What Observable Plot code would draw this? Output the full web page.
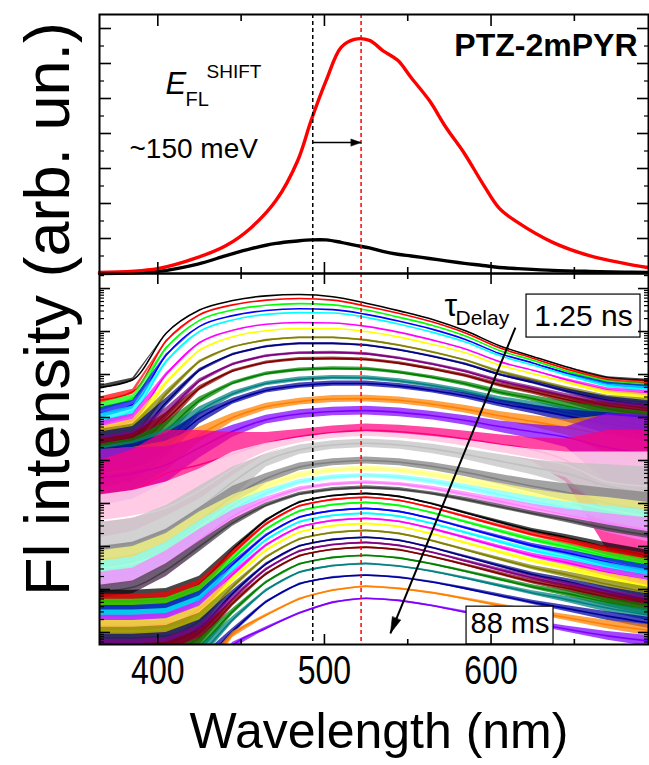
<!DOCTYPE html>
<html><head><meta charset="utf-8">
<script src="https://cdn.jsdelivr.net/npm/d3@7"></script>
<script src="https://cdn.jsdelivr.net/npm/@observablehq/plot@0.6"></script>
<style>
html,body{margin:0;padding:0;background:#fff;}
#chart{position:relative;width:649px;height:765px;overflow:hidden;background:#fff;font-family:'Liberation Sans',Arial,sans-serif;color:#000;}
#chart svg{position:absolute;left:0;overflow:visible;}
#ylabel{position:absolute;left:47px;top:309px;transform:translate(-50%,-50%) rotate(-90deg);font-size:63px;white-space:nowrap;line-height:1;}
</style></head><body><div id="chart"></div>
<script>
// ---------- data ----------
const topWavelengths = [365, 400, 424, 441, 456, 471, 484, 492, 501, 510, 518, 527, 535, 544, 552, 563, 573, 584, 595, 605, 616, 637, 659, 680, 694];
const redSpectrum   = [0.03, 0.14, 0.46, 0.80, 1.31, 2.09, 3.23, 4.37, 5.51, 6.46, 6.69, 6.66, 6.37, 6.09, 5.60, 4.94, 4.17, 3.43, 2.57, 1.86, 1.46, 0.89, 0.51, 0.29, 0.17];
const blackSpectrum = [0.00, 0.06, 0.27, 0.51, 0.71, 0.86, 0.93, 0.96, 0.96, 0.89, 0.81, 0.73, 0.63, 0.55, 0.50, 0.43, 0.36, 0.29, 0.23, 0.17, 0.14, 0.09, 0.06, 0.04, 0.03];

const wavelengths = [365, 385, 405, 425, 445, 465, 485, 505, 525, 545, 565, 585, 605, 625, 645, 670, 695];
const curveColors = [
  "#000000","#FF0000","#00FF00","#0000FF","#00FFFF","#FF00FF","#FFFF00","#808000","#000080","#800080","#800000","#008000","#008080","#0000A0","#FF8000","#8000FF",
  "#FF0080","#FFFFFF","#C0C0C0","#808080","#FFFF80","#80FFFF","#FF80FF","#404040",
  "#000000","#FF0000","#00FF00","#0000FF","#00FFFF","#FF00FF","#FFFF00","#808000","#000080","#800080","#800000","#008000","#008080","#0000A0","#FF8000","#8000FF"
];
// log10 intensity of each delayed spectrum (1.25 ns first, 88 ms last)
const logLevels = [
  [5.70, 5.88, 6.96, 7.50, 7.72, 7.83, 7.86, 7.81, 7.66, 7.48, 7.28, 7.01, 6.67, 6.42, 6.18, 5.93, 5.86],
  [5.40, 5.60, 6.78, 7.39, 7.62, 7.73, 7.77, 7.73, 7.59, 7.42, 7.22, 6.96, 6.62, 6.38, 6.13, 5.88, 5.80],
  [5.25, 5.45, 6.62, 7.26, 7.50, 7.61, 7.65, 7.62, 7.50, 7.33, 7.14, 6.89, 6.56, 6.33, 6.08, 5.83, 5.75],
  [5.10, 5.30, 6.45, 7.12, 7.37, 7.49, 7.53, 7.51, 7.40, 7.24, 7.05, 6.81, 6.49, 6.27, 6.03, 5.78, 5.70],
  [4.95, 5.15, 6.30, 7.00, 7.27, 7.40, 7.44, 7.43, 7.33, 7.17, 6.98, 6.75, 6.44, 6.22, 5.99, 5.74, 5.66],
  [4.75, 4.95, 6.00, 6.74, 7.03, 7.17, 7.21, 7.20, 7.12, 6.98, 6.80, 6.59, 6.30, 6.10, 5.88, 5.64, 5.56],
  [4.60, 4.80, 5.80, 6.56, 6.88, 7.02, 7.07, 7.07, 7.00, 6.87, 6.70, 6.50, 6.22, 6.02, 5.82, 5.58, 5.48],
  [4.50, 4.65, 5.55, 6.30, 6.64, 6.80, 6.86, 6.86, 6.80, 6.68, 6.52, 6.33, 6.07, 5.88, 5.68, 5.45, 5.35],
  [4.40, 4.55, 5.35, 6.10, 6.47, 6.65, 6.72, 6.72, 6.68, 6.57, 6.42, 6.24, 6.00, 5.82, 5.62, 5.40, 5.28],
  [4.25, 4.40, 5.10, 5.85, 6.24, 6.43, 6.50, 6.51, 6.48, 6.38, 6.24, 6.07, 5.85, 5.68, 5.50, 5.28, 5.15],
  [4.15, 4.30, 4.95, 5.68, 6.08, 6.28, 6.36, 6.37, 6.35, 6.26, 6.13, 5.97, 5.76, 5.60, 5.42, 5.20, 5.06],
  [4.00, 4.15, 4.70, 5.40, 5.80, 6.02, 6.11, 6.14, 6.13, 6.05, 5.93, 5.78, 5.59, 5.44, 5.27, 5.07, 4.93],
  [3.90, 4.05, 4.50, 5.15, 5.55, 5.79, 5.89, 5.93, 5.92, 5.85, 5.74, 5.60, 5.42, 5.28, 5.12, 4.93, 4.79],
  [3.80, 3.95, 4.35, 4.98, 5.38, 5.63, 5.74, 5.79, 5.79, 5.73, 5.63, 5.50, 5.33, 5.19, 5.04, 4.86, 4.72],
  [3.70, 3.80, 4.10, 4.60, 5.00, 5.25, 5.37, 5.43, 5.44, 5.40, 5.31, 5.19, 5.04, 4.91, 4.77, 4.60, 4.47],
  [3.60, 3.70, 3.90, 4.30, 4.68, 4.95, 5.08, 5.14, 5.16, 5.12, 5.04, 4.93, 4.79, 4.67, 4.54, 4.30, 4.15],
  [3.10, 3.30, 3.70, 3.90, 4.15, 4.40, 4.56, 4.65, 4.70, 4.67, 4.60, 4.50, 4.38, 4.25, 4.00, 3.30, 3.20],
  [2.60, 2.70, 2.90, 3.30, 3.80, 4.20, 4.40, 4.51, 4.55, 4.51, 4.43, 4.32, 4.18, 4.04, 3.90, 3.50, 3.40],
  [2.00, 2.10, 2.40, 2.90, 3.50, 4.00, 4.25, 4.36, 4.40, 4.36, 4.27, 4.14, 3.99, 3.84, 3.70, 3.40, 3.25],
  [1.70, 1.80, 2.10, 2.60, 3.15, 3.58, 3.85, 3.96, 4.00, 3.96, 3.86, 3.72, 3.56, 3.40, 3.26, 3.00, 2.85],
  [1.50, 1.60, 1.90, 2.45, 3.00, 3.40, 3.66, 3.77, 3.81, 3.77, 3.67, 3.53, 3.37, 3.21, 3.06, 2.86, 2.70],
  [1.30, 1.40, 1.75, 2.30, 2.85, 3.24, 3.50, 3.61, 3.65, 3.61, 3.51, 3.37, 3.21, 3.05, 2.90, 2.70, 2.54],
  [1.10, 1.20, 1.60, 2.15, 2.70, 3.08, 3.34, 3.45, 3.49, 3.45, 3.35, 3.21, 3.05, 2.89, 2.74, 2.54, 2.38],
  [0.95, 1.05, 1.45, 2.00, 2.55, 2.96, 3.22, 3.33, 3.37, 3.33, 3.23, 3.09, 2.93, 2.77, 2.62, 2.42, 2.26],
  [0.73, 0.73, 0.78, 1.13, 1.93, 2.61, 3.03, 3.18, 3.23, 3.16, 2.99, 2.78, 2.57, 2.37, 2.21, 1.98, 1.78],
  [0.64, 0.64, 0.69, 1.04, 1.84, 2.52, 2.94, 3.09, 3.14, 3.07, 2.90, 2.69, 2.48, 2.28, 2.12, 1.89, 1.69],
  [0.52, 0.52, 0.57, 0.92, 1.72, 2.40, 2.82, 2.97, 3.02, 2.95, 2.78, 2.57, 2.36, 2.16, 2.00, 1.77, 1.57],
  [0.38, 0.38, 0.43, 0.78, 1.58, 2.26, 2.68, 2.83, 2.88, 2.81, 2.64, 2.43, 2.22, 2.02, 1.86, 1.63, 1.43],
  [0.27, 0.27, 0.32, 0.67, 1.47, 2.15, 2.57, 2.72, 2.77, 2.70, 2.53, 2.32, 2.11, 1.91, 1.75, 1.52, 1.32],
  [0.15, 0.15, 0.20, 0.55, 1.35, 2.03, 2.45, 2.60, 2.65, 2.58, 2.41, 2.20, 1.99, 1.79, 1.63, 1.40, 1.20],
  [0.03, 0.03, 0.08, 0.43, 1.23, 1.91, 2.33, 2.48, 2.53, 2.46, 2.29, 2.08, 1.87, 1.67, 1.51, 1.28, 1.08],
  [-0.13, -0.13, -0.08, 0.27, 1.07, 1.75, 2.17, 2.32, 2.37, 2.30, 2.13, 1.92, 1.71, 1.51, 1.35, 1.12, 0.92],
  [-0.29, -0.29, -0.24, 0.11, 0.91, 1.59, 2.01, 2.16, 2.21, 2.14, 1.97, 1.76, 1.55, 1.35, 1.19, 0.96, 0.76],
  [-0.41, -0.41, -0.36, -0.01, 0.79, 1.47, 1.89, 2.04, 2.09, 2.02, 1.86, 1.66, 1.46, 1.27, 1.11, 0.89, 0.70],
  [-0.52, -0.52, -0.47, -0.12, 0.68, 1.36, 1.78, 1.93, 1.98, 1.92, 1.76, 1.57, 1.37, 1.18, 1.03, 0.81, 0.62],
  [-0.71, -0.71, -0.66, -0.31, 0.49, 1.17, 1.59, 1.74, 1.79, 1.73, 1.59, 1.42, 1.24, 1.06, 0.91, 0.70, 0.52],
  [-0.90, -0.90, -0.85, -0.50, 0.30, 0.98, 1.40, 1.55, 1.60, 1.54, 1.42, 1.26, 1.09, 0.92, 0.77, 0.57, 0.40],
  [-1.17, -1.17, -1.12, -0.77, 0.03, 0.71, 1.13, 1.28, 1.33, 1.28, 1.17, 1.02, 0.86, 0.70, 0.56, 0.38, 0.22],
  [-1.43, -1.43, -1.38, -1.03, -0.05, 0.40, 0.78, 0.98, 1.07, 1.02, 0.92, 0.78, 0.63, 0.48, 0.35, 0.18, 0.05],
  [-1.71, -1.71, -1.66, -1.31, -0.30, 0.10, 0.45, 0.70, 0.79, 0.74, 0.62, 0.47, 0.35, 0.22, 0.08, -0.08, -0.20]
];
// half-width of the noise band (decades) of each spectrum
const logNoise = [
  [0.05, 0.04, 0, 0, 0, 0, 0, 0, 0, 0, 0, 0, 0, 0, 0, 0.02, 0.03],
  [0.08, 0.06, 0.02, 0, 0, 0, 0, 0, 0, 0, 0, 0, 0, 0, 0.02, 0.03, 0.04],
  [0.10, 0.08, 0.02, 0, 0, 0, 0, 0, 0, 0, 0, 0, 0, 0, 0.02, 0.03, 0.04],
  [0.12, 0.10, 0.03, 0, 0, 0, 0, 0, 0, 0, 0, 0, 0, 0, 0.02, 0.04, 0.05],
  [0.14, 0.12, 0.03, 0, 0, 0, 0, 0, 0, 0, 0, 0, 0, 0, 0.02, 0.04, 0.05],
  [0.16, 0.14, 0.04, 0.01, 0, 0, 0, 0, 0, 0, 0, 0, 0, 0, 0.03, 0.05, 0.06],
  [0.18, 0.16, 0.05, 0.02, 0, 0, 0, 0, 0, 0, 0, 0, 0, 0.01, 0.03, 0.05, 0.07],
  [0.22, 0.20, 0.08, 0.03, 0.02, 0.02, 0.02, 0.02, 0.02, 0.02, 0.02, 0.02, 0.03, 0.03, 0.04, 0.07, 0.09],
  [0.26, 0.24, 0.10, 0.04, 0.025, 0.025, 0.025, 0.025, 0.025, 0.025, 0.025, 0.03, 0.03, 0.04, 0.05, 0.09, 0.11],
  [0.30, 0.28, 0.13, 0.05, 0.03, 0.03, 0.03, 0.03, 0.03, 0.03, 0.03, 0.035, 0.04, 0.05, 0.06, 0.11, 0.14],
  [0.34, 0.32, 0.16, 0.06, 0.035, 0.035, 0.035, 0.035, 0.035, 0.035, 0.035, 0.04, 0.05, 0.06, 0.08, 0.14, 0.17],
  [0.38, 0.36, 0.20, 0.08, 0.045, 0.04, 0.04, 0.04, 0.04, 0.04, 0.04, 0.05, 0.06, 0.07, 0.10, 0.17, 0.20],
  [0.42, 0.40, 0.24, 0.10, 0.06, 0.05, 0.05, 0.05, 0.05, 0.05, 0.05, 0.06, 0.07, 0.09, 0.12, 0.20, 0.24],
  [0.46, 0.44, 0.28, 0.13, 0.07, 0.06, 0.06, 0.06, 0.06, 0.06, 0.06, 0.07, 0.08, 0.10, 0.14, 0.25, 0.30],
  [0.55, 0.50, 0.35, 0.18, 0.10, 0.08, 0.08, 0.08, 0.08, 0.08, 0.08, 0.09, 0.10, 0.13, 0.18, 0.45, 0.50],
  [0.65, 0.60, 0.42, 0.24, 0.14, 0.10, 0.10, 0.10, 0.10, 0.10, 0.10, 0.11, 0.13, 0.17, 0.24, 0.80, 0.90],
  [0.90, 0.95, 1.00, 0.80, 0.50, 0.25, 0.16, 0.15, 0.15, 0.15, 0.16, 0.18, 0.22, 0.28, 0.50, 1.40, 1.50],
  [0.60, 0.60, 0.60, 0.50, 0.40, 0.20, 0.13, 0.12, 0.12, 0.12, 0.13, 0.15, 0.18, 0.22, 0.30, 0.70, 0.80],
  [0.55, 0.55, 0.55, 0.50, 0.35, 0.15, 0.11, 0.10, 0.10, 0.10, 0.11, 0.12, 0.15, 0.18, 0.25, 0.50, 0.60],
  [0.30, 0.30, 0.30, 0.30, 0.25, 0.12, 0.09, 0.08, 0.08, 0.08, 0.09, 0.10, 0.12, 0.15, 0.20, 0.35, 0.40],
  [0.40, 0.40, 0.40, 0.35, 0.20, 0.09, 0.07, 0.06, 0.06, 0.06, 0.07, 0.08, 0.10, 0.12, 0.16, 0.28, 0.32],
  [0.35, 0.35, 0.35, 0.30, 0.18, 0.08, 0.06, 0.05, 0.05, 0.05, 0.06, 0.07, 0.09, 0.11, 0.14, 0.25, 0.30],
  [0.30, 0.30, 0.30, 0.25, 0.15, 0.07, 0.05, 0.04, 0.04, 0.04, 0.05, 0.06, 0.08, 0.10, 0.13, 0.22, 0.28],
  [0.15, 0.15, 0.15, 0.12, 0.08, 0.05, 0.04, 0.04, 0.04, 0.04, 0.04, 0.05, 0.05, 0.05, 0.06, 0.08, 0.08],
  [0.25, 0.25, 0.24, 0.18, 0.07, 0.03, 0.02, 0.02, 0.02, 0.02, 0.02, 0.03, 0.04, 0.05, 0.07, 0.10, 0.13],
  [0.25, 0.25, 0.24, 0.18, 0.07, 0.03, 0.02, 0.02, 0.02, 0.02, 0.02, 0.03, 0.04, 0.05, 0.07, 0.10, 0.13],
  [0.25, 0.25, 0.24, 0.18, 0.07, 0.03, 0.02, 0.02, 0.02, 0.02, 0.02, 0.03, 0.04, 0.05, 0.07, 0.10, 0.13],
  [0.25, 0.25, 0.24, 0.18, 0.07, 0.03, 0.02, 0.02, 0.02, 0.02, 0.02, 0.03, 0.04, 0.05, 0.07, 0.10, 0.13],
  [0.25, 0.25, 0.24, 0.18, 0.07, 0.03, 0.02, 0.02, 0.02, 0.02, 0.02, 0.03, 0.04, 0.05, 0.07, 0.10, 0.13],
  [0.25, 0.25, 0.24, 0.18, 0.07, 0.03, 0.02, 0.02, 0.02, 0.02, 0.02, 0.03, 0.04, 0.05, 0.07, 0.10, 0.13],
  [0.25, 0.25, 0.24, 0.18, 0.07, 0.03, 0.02, 0.02, 0.02, 0.02, 0.02, 0.03, 0.04, 0.05, 0.07, 0.10, 0.13],
  [0.25, 0.25, 0.24, 0.18, 0.07, 0.03, 0.02, 0.02, 0.02, 0.02, 0.02, 0.03, 0.04, 0.05, 0.07, 0.10, 0.13],
  [0.25, 0.25, 0.24, 0.18, 0.07, 0.03, 0.02, 0.02, 0.02, 0.02, 0.02, 0.03, 0.04, 0.05, 0.07, 0.10, 0.13],
  [0.25, 0.25, 0.24, 0.18, 0.07, 0.03, 0.02, 0.02, 0.02, 0.02, 0.02, 0.03, 0.04, 0.05, 0.07, 0.10, 0.13],
  [0.25, 0.25, 0.24, 0.18, 0.07, 0.03, 0.02, 0.02, 0.02, 0.02, 0.02, 0.03, 0.04, 0.05, 0.07, 0.10, 0.13],
  [0.25, 0.25, 0.24, 0.18, 0.07, 0.03, 0.02, 0.02, 0.02, 0.02, 0.02, 0.03, 0.04, 0.05, 0.07, 0.10, 0.13],
  [0.25, 0.25, 0.24, 0.18, 0.07, 0.03, 0.02, 0.02, 0.02, 0.02, 0.02, 0.03, 0.04, 0.05, 0.07, 0.10, 0.13],
  [0.25, 0.25, 0.24, 0.18, 0.07, 0.03, 0.02, 0.02, 0.02, 0.02, 0.02, 0.03, 0.04, 0.05, 0.07, 0.10, 0.13],
  [0.25, 0.25, 0.24, 0.18, 0.07, 0.03, 0.02, 0.02, 0.02, 0.02, 0.02, 0.03, 0.04, 0.05, 0.07, 0.10, 0.13],
  [0.25, 0.25, 0.24, 0.18, 0.07, 0.03, 0.02, 0.02, 0.02, 0.02, 0.02, 0.03, 0.04, 0.05, 0.07, 0.10, 0.13]
];

const xTickLabels = [400, 500, 600];
const xMinorTicks = [450, 550, 650];
const topYMajor = [1, 2, 3, 4, 5, 6, 7];
const topYMinor = [0.5, 1.5, 2.5, 3.5, 4.5, 5.5, 6.5];
const shiftFrom = 493;   // black dashed line (nm)
const shiftTo = 522;     // red dashed line (nm)
const shiftArrowLevel = 3.74;
const tauArrow = {x1: 614.6, y1: 10 ** 7.09, x2: 539.6, y2: 10 ** -0.02};
const firstDelayBox = {x1: 621.3, x2: 689.7, y1: 10 ** 6.86, y2: 10 ** 7.86, tx: 655.5, ty: 10 ** 7.14, label: "1.25 ns"};
const lastDelayBox = {x1: 585.3, x2: 637.5, y1: 10 ** -0.28, y2: 10 ** 0.60, tx: 611.4, ty: 10 ** -0.02, label: "88 ms"};

// ---------- chart ----------
const xDomain = [365, 694.5];
const botYDomain = [10 ** -0.28, 10 ** 8.35];
const fontFamily = "'Liberation Sans', Arial, Helvetica, sans-serif";
const logMajor = d3.range(0, 9).map(d => 10 ** d);
const logMinor = [];
for (let d = -1; d <= 8; d++) for (let k = 2; k <= 9; k++) {
  const v = k * 10 ** d;
  if (v > botYDomain[0] && v < botYDomain[1]) logMinor.push(v);
}

function xEdgeTicks(anchors, majLen, minLen) {
  return anchors.flatMap(anchor => [
    Plot.axisX({anchor, ticks: xTickLabels, tickSize: -majLen, fill: "none", strokeWidth: 1.6, label: null}),
    Plot.axisX({anchor, ticks: xMinorTicks, tickSize: -minLen, fill: "none", strokeWidth: 1.6, label: null})
  ]);
}
function yEdgeTicks(major, minor, majLen, minLen) {
  return ["left", "right"].flatMap(anchor => [
    Plot.axisY({anchor, ticks: major, tickSize: -majLen, fill: "none", strokeWidth: 1.6, label: null}),
    Plot.axisY({anchor, ticks: minor, tickSize: -minLen, fill: "none", strokeWidth: 1.2, label: null})
  ]);
}

const topRows = [
  ...topWavelengths.map((wl, i) => ({wl, v: blackSpectrum[i], s: "#000000"})),
  ...topWavelengths.map((wl, i) => ({wl, v: redSpectrum[i], s: "#FF0000"}))
];

const spike = {draw(ctx, l, r) { ctx.moveTo(-r, 0); ctx.lineTo(0, -l); ctx.lineTo(r, 0); ctx.closePath(); }};

const topPlot = Plot.plot({
  width: 649, height: 274,
  marginLeft: 99, marginRight: 1, marginTop: 14, marginBottom: 1,
  x: {domain: xDomain},
  y: {domain: [0, 7.4]},
  style: {fontFamily, background: "transparent", overflow: "visible", color: "#000"},
  marks: [
    Plot.line(topRows, {x: "wl", y: "v", z: "s", stroke: "s", strokeWidth: 3.4, curve: "catmull-rom"}),
    Plot.ruleX([shiftFrom], {stroke: "#000", strokeWidth: 1.5, strokeDasharray: "4,3"}),
    Plot.ruleX([shiftTo], {stroke: "#FF0000", strokeWidth: 1.5, strokeDasharray: "4,3"}),
    Plot.link([{x1: shiftFrom, x2: shiftTo, y: shiftArrowLevel}], {x1: "x1", x2: "x2", y1: "y", y2: "y", stroke: "#000", strokeWidth: 1.5}),
    Plot.vector([{x: shiftTo, y: shiftArrowLevel}], {x: "x", y: "y", length: 10, r: 3.5, rotate: 90, anchor: "end", shape: spike, fill: "#000", stroke: "#000", strokeWidth: 0.5}),
    Plot.text(["E"], {frameAnchor: "top-left", dx: 66, dy: 79, fontSize: 31, fontStyle: "italic", textAnchor: "start", lineAnchor: "bottom"}),
    Plot.text(["FL"], {frameAnchor: "top-left", dx: 86, dy: 91, fontSize: 20, textAnchor: "start", lineAnchor: "bottom"}),
    Plot.text(["SHIFT"], {frameAnchor: "top-left", dx: 107, dy: 63, fontSize: 19, textAnchor: "start", lineAnchor: "bottom"}),
    Plot.text(["~150 meV"], {frameAnchor: "top-left", dx: 30, dy: 143, fontSize: 28, textAnchor: "start", lineAnchor: "bottom"}),
    Plot.text(["PTZ-2mPYR"], {frameAnchor: "top-right", dx: -11, dy: 41, fontSize: 32, fontWeight: "bold", textAnchor: "end", lineAnchor: "bottom"}),
    ...xEdgeTicks(["top", "bottom"], 11, 6),
    ...yEdgeTicks(topYMajor, topYMinor, 12, 5),
    Plot.frame({stroke: "#000", strokeWidth: 2})
  ]
});

const spectra = curveColors.map((color, i) => wavelengths.map((wl, j) => ({
  wl,
  v: 10 ** logLevels[i][j],
  lo: 10 ** (logLevels[i][j] - logNoise[i][j]),
  hi: 10 ** (logLevels[i][j] + logNoise[i][j])
})));

// on-screen direction of the delay arrow, for its filled head
const sx = d3.scaleLinear(xDomain, [99, 648]);
const sy = d3.scaleLog(botYDomain, [371, 0]);
const tauAngle = Math.atan2(sx(tauArrow.x2) - sx(tauArrow.x1), -(sy(tauArrow.y2) - sy(tauArrow.y1))) * 180 / Math.PI;

const botPlot = Plot.plot({
  width: 649, height: 492,
  marginLeft: 99, marginRight: 1, marginTop: 0, marginBottom: 121,
  x: {domain: xDomain},
  y: {type: "log", domain: botYDomain},
  style: {fontFamily, background: "transparent", overflow: "visible", color: "#000"},
  marks: [
    ...spectra.flatMap((rows, i) => [
      Plot.areaY(rows, {x: "wl", y1: "lo", y2: "hi", fill: curveColors[i], fillOpacity: 0.72, curve: "linear", clip: true}),
      Plot.line(rows, {x: "wl", y: "v", stroke: curveColors[i], strokeWidth: 1.6, curve: "monotone-x", clip: true})
    ]),
    Plot.ruleX([shiftFrom], {stroke: "#000", strokeWidth: 1.5, strokeDasharray: "4,3"}),
    Plot.ruleX([shiftTo], {stroke: "#FF0000", strokeWidth: 1.5, strokeDasharray: "4,3"}),
    Plot.rect([firstDelayBox], {x1: "x1", x2: "x2", y1: "y1", y2: "y2", fill: "#fff", stroke: "#000", strokeWidth: 1.2}),
    Plot.text([firstDelayBox], {x: "tx", y: "ty", text: "label", fontSize: 30, lineAnchor: "bottom"}),
    Plot.rect([lastDelayBox], {x1: "x1", x2: "x2", y1: "y1", y2: "y2", fill: "#fff", stroke: "#000", strokeWidth: 1.2}),
    Plot.text([lastDelayBox], {x: "tx", y: "ty", text: "label", fontSize: 29, lineAnchor: "bottom"}),
    Plot.link([tauArrow], {x1: "x1", y1: "y1", x2: "x2", y2: "y2", stroke: "#000", strokeWidth: 2}),
    Plot.vector([tauArrow], {x: "x2", y: "y2", length: 16, r: 4.5, rotate: tauAngle, anchor: "end", shape: spike, fill: "#000", stroke: "#000", strokeWidth: 0.5}),
    Plot.text(["τ"], {frameAnchor: "top-left", dx: 345, dy: 42, fontSize: 32, textAnchor: "start", lineAnchor: "bottom"}),
    Plot.text(["Delay"], {frameAnchor: "top-left", dx: 356, dy: 51, fontSize: 21, textAnchor: "start", lineAnchor: "bottom"}),
    ...xEdgeTicks(["top", "bottom"], 10, 5),
    ...yEdgeTicks(logMajor, logMinor, 11, 5),
    Plot.axisX({anchor: "bottom", ticks: xTickLabels, tickSize: 0, tickPadding: 11, fontSize: 40, label: null, tickFormat: d => String(d)}),
    Plot.text(["Wavelength (nm)"], {frameAnchor: "bottom", dx: 5, dy: 103, fontSize: 50, lineAnchor: "bottom"}),
    Plot.frame({stroke: "#000", strokeWidth: 2})
  ]
});

// tick labels of the reference are set in a narrow face: condense them horizontally
botPlot.querySelectorAll('g[aria-label="x-axis tick label"] text').forEach(t => {
  const tr = t.getAttribute("transform") || "";
  t.setAttribute("transform", tr + " scale(0.8,1)");
});

const chart = document.getElementById("chart");
topPlot.style.top = "0px";
botPlot.style.top = "273px";
chart.appendChild(botPlot);
chart.appendChild(topPlot);
const yl = document.createElement("div");
yl.id = "ylabel";
yl.textContent = "Fl intensity (arb. un.)";
chart.appendChild(yl);
</script></body></html>
